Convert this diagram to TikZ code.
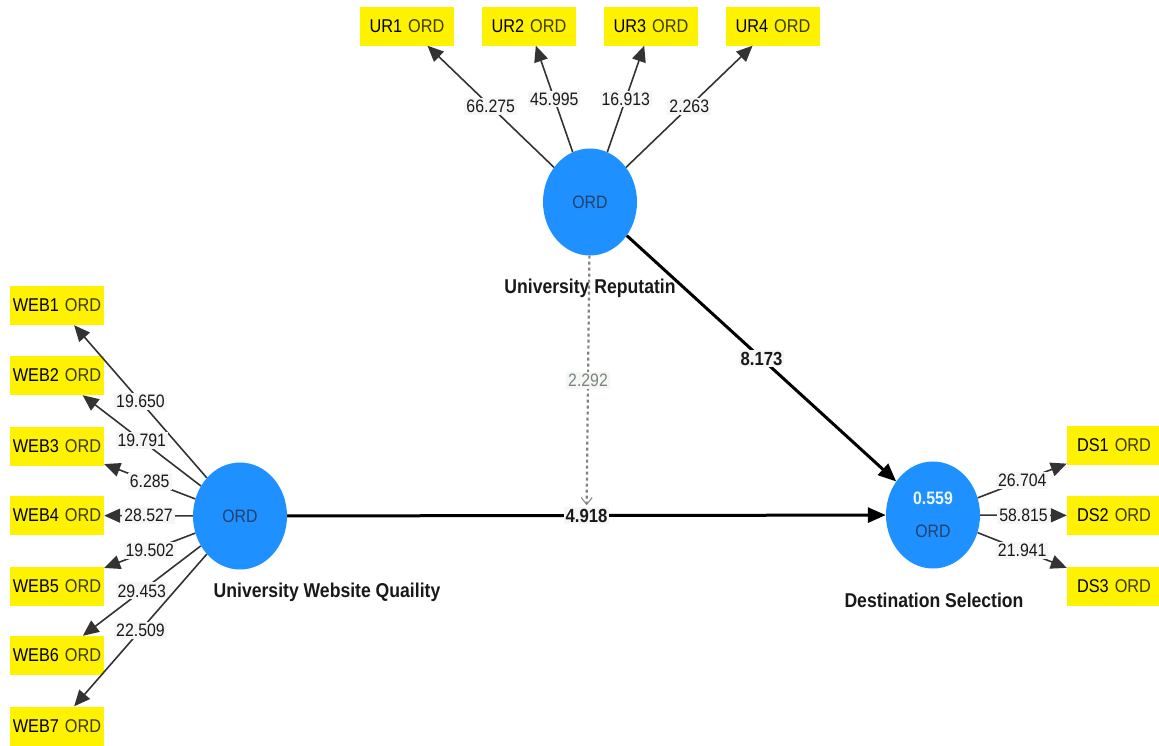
\documentclass[tikz,border=0pt]{standalone}
\usepackage{fontspec}
\setmainfont{Liberation Sans}[FakeStretch=0.88]
\usetikzlibrary{shapes.geometric,arrows.meta}
\definecolor{lvblue}{RGB}{30,144,255}
\definecolor{ordtxt}{RGB}{35,65,105}
\definecolor{boxord}{RGB}{60,60,0}
\definecolor{lblfill}{RGB}{246,246,246}
\definecolor{modgray}{RGB}{130,130,130}
\definecolor{modtxt}{RGB}{120,135,120}
\newcommand\indtxt[1]{#1\hspace{6pt}\textcolor{boxord}{ORD}}
\begin{document}
\begin{tikzpicture}[x=1pt,y=-1pt,
 lv/.style={ellipse, fill=lvblue, minimum width=94pt, minimum height=107pt, inner sep=0pt, font=\fontsize{18}{20}\selectfont, text=ordtxt, align=center},
 ind/.style={rectangle, fill=yellow, minimum width=94pt, minimum height=39pt, inner sep=0pt, font=\fontsize{18.5}{20}\selectfont, text=black},
 lvname/.style={font=\fontsize{20}{22}\selectfont\bfseries, text=black!90},
 meas/.style={line width=1.6pt, draw=black!80, -{Triangle[length=16pt,width=14pt]}},
 struct/.style={line width=3pt, draw=black, -{Triangle[length=18pt,width=15pt]}},
 wt/.style={fill=lblfill, inner sep=2pt, font=\fontsize{18}{20}\selectfont, text=black!90, pos=0.5},
 wtb/.style={wt, font=\fontsize{19}{20}\selectfont\bfseries},
]
\useasboundingbox (0,0) rectangle (1159,745);

% latent variables
\node[lv] (ur) at (590,202) {ORD};
\node[lv] (web) at (240,516) {ORD};
\node[lv] (ds) at (933,515) {\textcolor{white!92!lvblue}{\bfseries 0.559}\\[13pt]ORD};

\node[lvname] (urn) at (590,288) {University Reputatin};
\node[lvname] (webn) at (327,592) {University Website Quaility};
\node[lvname] (dsn) at (934,600) {Destination Selection};

% indicators
\node[ind] (ur1) at (407,26) {\indtxt{UR1}};
\node[ind] (ur2) at (529,26) {\indtxt{UR2}};
\node[ind] (ur3) at (651,26) {\indtxt{UR3}};
\node[ind] (ur4) at (773,26) {\indtxt{UR4}};

\node[ind] (web1) at (57,305.5) {\indtxt{WEB1}};
\node[ind] (web2) at (57,375.5) {\indtxt{WEB2}};
\node[ind] (web3) at (57,446) {\indtxt{WEB3}};
\node[ind] (web4) at (57,515.5) {\indtxt{WEB4}};
\node[ind] (web5) at (57,586) {\indtxt{WEB5}};
\node[ind] (web6) at (57,655.5) {\indtxt{WEB6}};
\node[ind] (web7) at (57,726) {\indtxt{WEB7}};

\node[ind] (ds1) at (1114,445.5) {\indtxt{DS1}};
\node[ind] (ds2) at (1114,515.5) {\indtxt{DS2}};
\node[ind] (ds3) at (1114,586.5) {\indtxt{DS3}};

% outer loadings
\draw[meas] (ur) -- (ur1) node[wt] {66.275};
\draw[meas] (ur) -- (ur2) node[wt] {45.995};
\draw[meas] (ur) -- (ur3) node[wt] {16.913};
\draw[meas] (ur) -- (ur4) node[wt] {2.263};

\draw[meas] (web) -- (web1) node[wt] {19.650};
\draw[meas] (web) -- (web2) node[wt] {19.791};
\draw[meas] (web) -- (web3) node[wt] {6.285};
\draw[meas] (web) -- (web4) node[wt] {28.527};
\draw[meas] (web) -- (web5) node[wt] {19.502};
\draw[meas] (web) -- (web6) node[wt] {29.453};
\draw[meas] (web) -- (web7) node[wt] {22.509};

\draw[meas] (ds) -- (ds1) node[wt] {26.704};
\draw[meas] (ds) -- (ds2) node[wt] {58.815};
\draw[meas] (ds) -- (ds3) node[wt] {21.941};

% structural paths
\draw[struct] (web) -- (ds) node[wtb] (w49) {4.918};
\draw[struct] (ur) -- (ds) node[wtb] (w81) {8.173};

% moderating effect
\draw[draw=modgray, line width=2.2pt, dash pattern=on 3pt off 3pt, -{Straight Barb[length=7pt,width=11pt,line width=1pt]}]
  (ur) -- (w49) node[wt, text=modtxt] (w22) {2.292};
\end{tikzpicture}
\end{document}
